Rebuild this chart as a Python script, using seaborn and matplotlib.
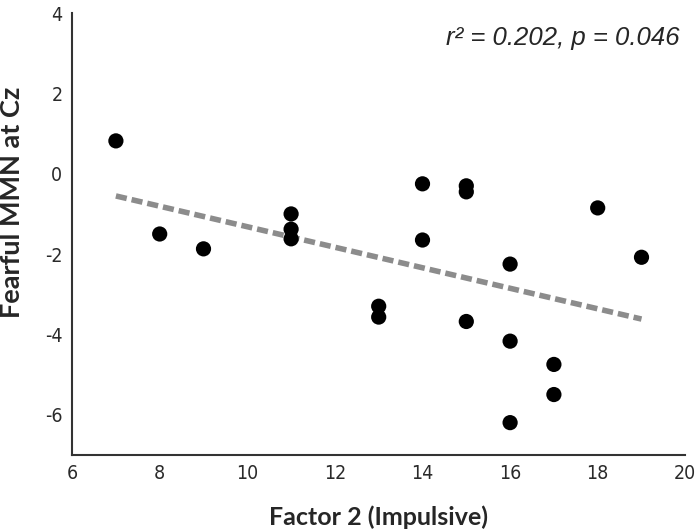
import matplotlib
matplotlib.use("Agg")
import matplotlib.pyplot as plt
import seaborn as sns
import numpy as np
import pandas as pd

factor2 = [7, 8, 9, 11, 11, 11, 13, 13, 14, 14, 15, 15, 15, 16, 16, 16, 17, 17, 18, 19]
mmn = [0.82, -1.5, -1.87, -1.0, -1.38, -1.62, -3.3, -3.57, -0.25, -1.65,
       -0.3, -0.45, -3.68, -2.25, -4.17, -6.2, -4.75, -5.5, -0.85, -2.08]
x_ticks = [6, 8, 10, 12, 14, 16, 18, 20]
y_ticks = [-6, -4, -2, 0, 2, 4]
stats_text = "r² = 0.202, p = 0.046"
x_label = "Factor 2 (Impulsive)"
y_label = "Fearful MMN at Cz"

df = pd.DataFrame({"factor2": factor2, "mmn": mmn})

sns.set_style("white")
plt.rcParams['font.family'] = ['DejaVu Sans']
plt.rcParams['font.stretch'] = 'condensed'
plt.rcParams['axes.unicode_minus'] = False

fig = plt.figure(figsize=(7, 5.3), dpi=100)
ax = fig.add_axes([0.103, 0.142, 0.876, 0.833])

sns.regplot(data=df, x="factor2", y="mmn", ax=ax, ci=None,
            scatter_kws=dict(s=120, color="black", edgecolor="none", zorder=3, alpha=1),
            line_kws=dict(color="#8c8c8c", lw=4, ls=(0, (2.0, 0.9)), zorder=2))

ax.set_xlim(6, 20)
ax.set_ylim(-7, 4)
ax.set_xticks(x_ticks)
ax.set_yticks(y_ticks)
ax.tick_params(direction="in", length=6, width=1.3, color="#333333",
               labelsize=14, labelcolor="#2a2a2a", pad=7)
for lab in ax.get_xticklabels() + ax.get_yticklabels():
    lab.set_fontstretch('condensed')
for s in ["top", "right"]:
    ax.spines[s].set_visible(False)
for s in ["left", "bottom"]:
    ax.spines[s].set_color("#333333")
    ax.spines[s].set_linewidth(1.5)

ax.set_xlabel(x_label, fontsize=18, fontweight="bold", family=["Lato", "DejaVu Sans"],
              fontstretch="normal", labelpad=16)
ax.set_ylabel(y_label, fontsize=19.5, fontweight="bold", family=["Lato", "DejaVu Sans"],
              fontstretch="normal")
ax.yaxis.set_label_coords(-0.079, 0.572)
ax.text(0.99, 0.97, stats_text, transform=ax.transAxes, ha="right", va="top",
        fontsize=18.5, style="italic", family=["Liberation Sans", "DejaVu Sans"],
        fontstretch="normal")

fig.savefig("out.png", dpi=100)
